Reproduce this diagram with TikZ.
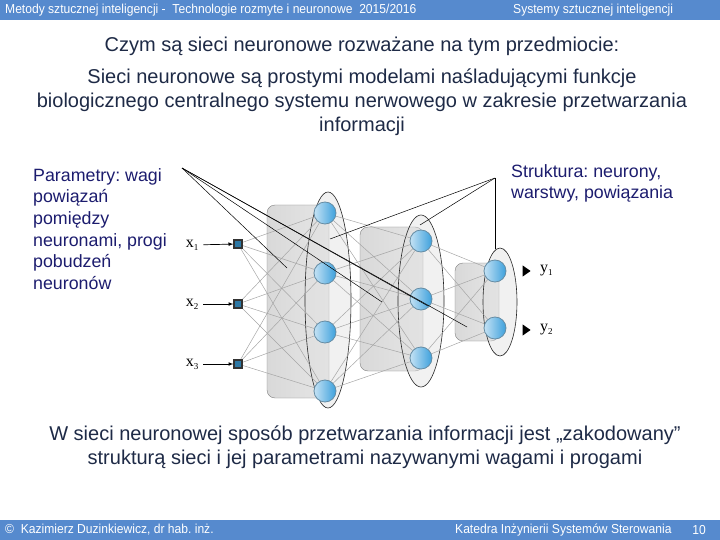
\documentclass[tikz,border=0pt]{standalone}
\usepackage{fontspec}
\setmainfont{Liberation Sans}
\newfontfamily\barfont[FakeStretch=0.93]{Liberation Sans}
\newfontfamily\serfont{Liberation Serif}
\usetikzlibrary{positioning,arrows,shapes.geometric}
\frenchspacing

\definecolor{barblue}{RGB}{86,138,206}
\definecolor{headtext}{RGB}{30,42,70}
\definecolor{notetext}{RGB}{28,28,110}
\definecolor{ballblue}{RGB}{60,160,220}

\pgfdeclarelayer{back}
\pgfdeclarelayer{mid}
\pgfsetlayers{back,mid,main}

\tikzset{
  neuron/.style={circle, minimum size=22pt, inner sep=0pt, left color=ballblue!30, right color=ballblue, draw=gray!60!ballblue, line width=0.8pt},
  input unit/.style={rectangle, minimum size=8pt, inner sep=0pt, draw=black!80, line width=1.2pt, fill=ballblue!75!black},
  out tip/.style={isosceles triangle, isosceles triangle apex angle=70, fill=black, inner sep=2.3pt},
  link/.style={gray!70, line width=0.5pt},
  pointer/.style={black, line width=0.5pt},
  layer box/.style={draw=gray, rounded corners=8pt, left color=gray!30, middle color=white, right color=gray!20},
  layer ring/.style={draw=black!85, line width=0.6pt, fill=gray!25, fill opacity=0.45},
  bar text/.style={text=white, font=\barfont\fontsize{13}{15}\selectfont, inner sep=0pt},
  main text/.style={text=headtext, font=\fontsize{20}{24}\selectfont, align=center, inner sep=0pt},
  note text/.style={text=notetext, font=\fontsize{17.8}{21.7}\selectfont, align=left, inner sep=0pt},
  unit label/.style={font=\serfont\fontsize{16}{16}\selectfont, inner sep=0pt}
}

\newcommand\unitsub[2]{#1\raisebox{-3pt}{\fontsize{9}{9}\selectfont #2}}

\begin{document}
\begin{tikzpicture}[x=1pt, y=-1pt, >=latex]
\useasboundingbox (0,0) rectangle (720,540);

\fill [barblue] (0,0) rectangle (720,20);
\fill [barblue] (0,520) rectangle (720,540);
\node [bar text, anchor=west] (head-left) at (5,10) {Metody sztucznej inteligencji -\ \ Technologie rozmyte i neuronowe\ \ 2015/2016};
\node [bar text, anchor=west] (head-right) at (513,10) {Systemy sztucznej inteligencji};
\node [bar text, anchor=west] (foot-left) at (5,530) {\textcopyright\ \ Kazimierz Duzinkiewicz, dr hab. inż.};
\node [bar text, anchor=west] (foot-right) at (455,530) {Katedra Inżynierii Systemów Sterowania};
\node [bar text] (foot-page) at (699,530) {10};

\node [main text] (title) at (362,46) {Czym są sieci neuronowe rozważane na tym przedmiocie:};
\node [main text] (intro) at (362,102) {Sieci neuronowe są prostymi modelami naśladującymi funkcje\\
  biologicznego centralnego systemu nerwowego w zakresie przetwarzania\\
  informacji};
\node [main text] (summary) at (365,447) {W sieci neuronowej sposób przetwarzania informacji jest „zakodowany”\\
  strukturą sieci i jej parametrami nazywanymi wagami i progami};

\node [note text, anchor=north west] (params) at (33,168) {Parametry: wagi\\ powiązań\\ pomiędzy\\ neuronami, progi\\ pobudzeń\\ neuronów};
\node [note text, anchor=north west] (struct) at (511,164) {Struktura: neurony,\\ warstwy, powiązania};

\begin{pgfonlayer}{back}
  \draw [layer box] (267,205) rectangle (329,398);
  \draw [layer box] (360,227) rectangle (423,371);
  \draw [layer box] (455,263) rectangle (499,341);
  \draw [layer ring] (328,300) ellipse [x radius=23, y radius=108];
  \draw [layer ring] (421,301) ellipse [x radius=23, y radius=86];
  \draw [layer ring] (500,302) ellipse [x radius=17, y radius=54];
\end{pgfonlayer}

\foreach \y [count=\i] in {244,304,364}
  \node [input unit] (input-\i) at (238,\y) {};

\foreach \y [count=\i] in {213,273,332,391}
  \node [neuron] (hidden-1-\i) at (325,\y) {};

\foreach \y [count=\i] in {241,299,358}
  \node [neuron] (hidden-2-\i) at (421,\y) {};

\foreach \y [count=\i] in {271,328}
  \node [neuron] (output-\i) at (495,\y) {};

\foreach \y [count=\i] in {245,304,364}
  \node [unit label] (x-\i) at (192,\y) {\unitsub{x}{\i}};

\foreach \i in {1,...,3}
  \draw [->, line width=0.7pt, shorten <=5pt] (x-\i) -- (input-\i);

\foreach \y [count=\i] in {271,330}
  \node [out tip] (tip-\i) at (525,\y) {};

\foreach \y [count=\i] in {271,330}
  \node [unit label, anchor=west] (y-\i) at (540,\y) {\unitsub{y}{\i}};

\begin{pgfonlayer}{mid}
\foreach \i in {1,...,3}
  \foreach \j in {1,...,4}
    \draw [link] (input-\i) -- (hidden-1-\j);

\foreach \i in {1,...,4}
  \foreach \j in {1,...,3}
    \draw [link] (hidden-1-\i) -- (hidden-2-\j);

\foreach \i in {1,...,3}
  \foreach \j in {1,...,2}
    \draw [link] (hidden-2-\i) -- (output-\j);
\end{pgfonlayer}

\coordinate (params-tip) at (182,168);
\coordinate (struct-tip) at (495,178);

\foreach \a/\b [count=\i] in {287/268, 382/302, 428/306, 467/327}
  \coordinate (weight-\i) at (\a,\b);

\foreach \a/\b [count=\i] in {330/239, 420/225, 495/249}
  \coordinate (layer-\i) at (\a,\b);

\foreach \i in {1,...,4}
  \draw [pointer] (params-tip) -- (weight-\i);

\foreach \i in {1,...,3}
  \draw [pointer] (struct-tip) -- (layer-\i);

\end{tikzpicture}
\end{document}
